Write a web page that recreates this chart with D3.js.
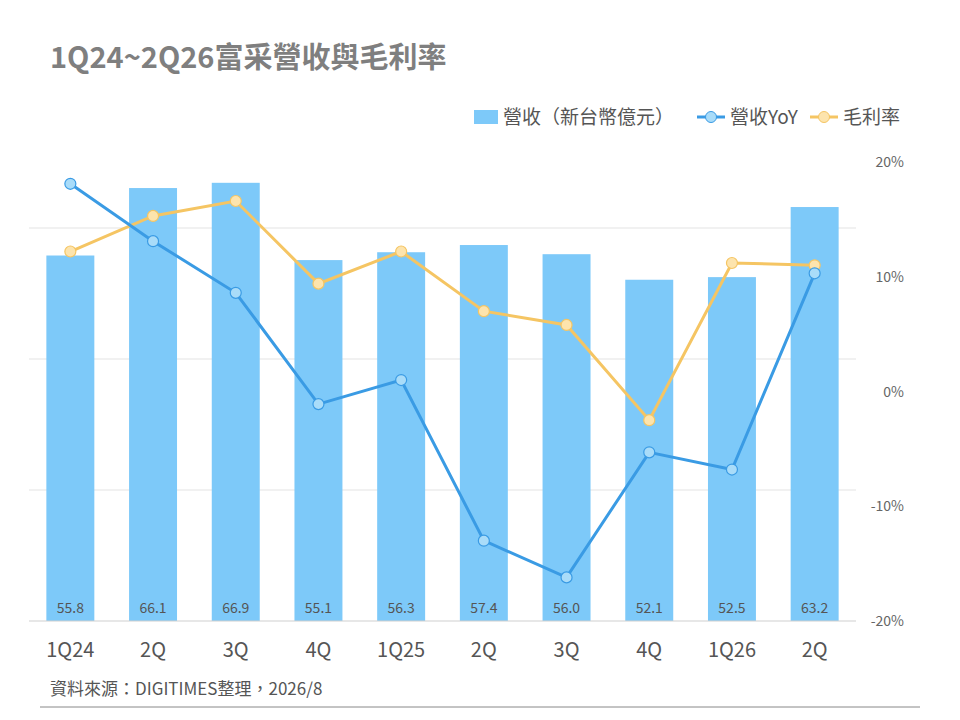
<!DOCTYPE html>
<html><head><meta charset="utf-8">
<script src="https://cdn.jsdelivr.net/npm/d3@7"></script>
<style>body{margin:0;background:#fff}svg{font-family:"Noto Sans CJK TC","Noto Sans",sans-serif}</style>
</head><body>
<svg id="c" width="960" height="720"></svg>
<script>
const quarters = ['1Q24', '2Q', '3Q', '4Q', '1Q25', '2Q', '3Q', '4Q', '1Q26', '2Q'];
const revenue = [55.8, 66.1, 66.9, 55.1, 56.3, 57.4, 56.0, 52.1, 52.5, 63.2];
const revenueYoY = [18.1, 13.1, 8.6, -1.1, 1.0, -13.0, -16.2, -5.3, -6.8, 10.3];
const grossMargin = [12.2, 15.3, 16.6, 9.4, 12.2, 7.0, 5.8, -2.5, 11.2, 11.0];
const pctTicks = [20, 10, 0, -10, -20];

const svg = d3.select('#c');
const plotLeft = 29, plotRight = 856, plotTop = 97, plotBottom = 621;

const x = d3.scaleBand().domain(d3.range(quarters.length)).range([plotLeft, plotRight]).paddingInner(0.42).paddingOuter(0.21);
const y = d3.scaleLinear().domain([0, 80]).range([plotBottom, plotTop]);
const yPct = d3.scaleLinear().domain([-20, 20]).range([plotBottom, 162]);

// title
svg.append('text').attr('x', 50).attr('y', 68).attr('font-size', 29).attr('font-weight', 'bold')
  .attr('fill', '#7f7f7f').text('1Q24~2Q26富采營收與毛利率');

// gridlines
svg.append('g').selectAll('line').data([20, 40, 60]).join('line')
  .attr('x1', plotLeft).attr('x2', plotRight).attr('y1', d => y(d)).attr('y2', d => y(d))
  .attr('stroke', '#e3e3e3');

// bars
svg.append('g').selectAll('rect').data(revenue).join('rect')
  .attr('x', (d, i) => x(i)).attr('width', x.bandwidth())
  .attr('y', d => y(d)).attr('height', d => plotBottom - y(d)).attr('fill', '#7dc9f9');
svg.append('g').selectAll('text').data(revenue).join('text')
  .attr('x', (d, i) => x(i) + x.bandwidth() / 2).attr('y', plotBottom - 8).attr('text-anchor', 'middle')
  .attr('font-size', 14).attr('fill', '#555').text(d => d.toFixed(1));

// x axis
svg.append('line').attr('x1', plotLeft).attr('x2', plotRight).attr('y1', plotBottom).attr('y2', plotBottom).attr('stroke', '#cfcfcf');
svg.append('g').selectAll('text').data(quarters).join('text')
  .attr('x', (d, i) => x(i) + x.bandwidth() / 2).attr('y', 657).attr('text-anchor', 'middle')
  .attr('font-size', 20).attr('fill', '#555').text(d => d);

// right axis
svg.append('g').selectAll('text').data(pctTicks).join('text')
  .attr('x', 904).attr('y', d => yPct(d) + 5).attr('text-anchor', 'end')
  .attr('font-size', 14).attr('fill', '#666').text(d => d + '%');

// lines
const cx = i => x(i) + x.bandwidth() / 2;
function drawLine(data, stroke, fill) {
  const line = d3.line().x((d, i) => cx(i)).y(d => yPct(d));
  svg.append('path').datum(data).attr('d', line).attr('fill', 'none').attr('stroke', stroke).attr('stroke-width', 3);
  svg.append('g').selectAll('circle').data(data).join('circle')
    .attr('cx', (d, i) => cx(i)).attr('cy', d => yPct(d)).attr('r', 5.5)
    .attr('fill', fill).attr('stroke', stroke).attr('stroke-width', 1.2);
}
drawLine(grossMargin, '#f5c563', '#fde4ad');
drawLine(revenueYoY, '#3a9be4', '#a9dcf9');

// legend
const lg = svg.append('g').attr('font-size', 19).attr('fill', '#555');
lg.append('rect').attr('x', 474).attr('y', 110).attr('width', 24).attr('height', 14).attr('fill', '#7dc9f9');
lg.append('text').attr('x', 503).attr('y', 124).text('營收（新台幣億元）');
[[697, '#3a9be4', '#a9dcf9', '營收YoY'], [810, '#f5c563', '#fde4ad', '毛利率']].forEach(([lx, s, f, t]) => {
  lg.append('line').attr('x1', lx).attr('x2', lx + 28).attr('y1', 117).attr('y2', 117).attr('stroke', s).attr('stroke-width', 3);
  lg.append('circle').attr('cx', lx + 14).attr('cy', 117).attr('r', 5.5).attr('fill', f).attr('stroke', s);
  lg.append('text').attr('x', lx + 33).attr('y', 124).text(t);
});

// source
svg.append('text').attr('x', 50).attr('y', 695).attr('font-size', 17).attr('fill', '#555').text('資料來源：DIGITIMES整理，2026/8');
svg.append('line').attr('x1', 40).attr('x2', 920).attr('y1', 707).attr('y2', 707).attr('stroke', '#888');
</script>
</body></html>
